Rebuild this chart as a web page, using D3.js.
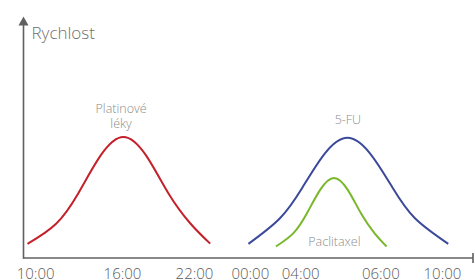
<!DOCTYPE html>
<html>
<head>
<meta charset="utf-8">
<script src="https://cdn.jsdelivr.net/npm/d3@7"></script>
<style>
  html, body { margin: 0; padding: 0; background: #fff; }
  svg { display: block; font-family: "Open Sans", sans-serif; }
  .lbl { fill: #8c8c8c; font-size: 12.5px; font-weight: 300; }
  .tick text { fill: #5a5a5a; font-size: 15px; font-weight: 300; font-family: "Open Sans", sans-serif; }
</style>
</head>
<body>
<svg></svg>
<script>
// chart size
const width = 475;
const height = 280;

// tick positions on the (non-uniform) time axis and their labels
const tickPositions = [2.7, 22, 38, 50.4, 61.6, 79.4, 93.1];
const tickLabels = ['10:00', '16:00', '22:00', '00:00', '04:00', '06:00', '10:00'];

// speed curves: [position, speed]
const platinum = [[1.0, 5.5], [7.3, 13.8], [12.3, 26.7], [17.3, 42.6], [22.3, 50.2],
  [27.3, 42.6], [32.3, 26.7], [37.3, 13.8], [41.6, 5.6]];
const fu5 = [[50.1, 5.5], [57.1, 16.2], [62.1, 29.1], [67.1, 43.4], [72.1, 49.9],
  [77.1, 43.4], [82.1, 29.1], [87.1, 16.2], [94.5, 5.5]];
const paclitaxel = [[56.2, 4.4], [60.1, 10.0], [63.1, 18.3], [66.1, 28.3], [69.1, 33.1],
  [72.1, 28.3], [75.1, 18.3], [78.1, 10.0], [80.8, 4.4]];

// curve names and where they sit: [position, speed]
const seriesNames = [['Platinové', 'léky'], ['5-FU'], ['Paclitaxel']];
const labelAnchors = [[21.8, 60.3], [72.2, 55.8], [69.2, 4.7]];
const seriesColors = ['#c4202a', '#3b4999', '#79b82c'];

const svg = d3.select('svg')
  .attr('width', width)
  .attr('height', height);

const x = d3.scaleLinear().domain([0, 100]).range([23, 473]);
const y = d3.scaleLinear().domain([0, 100]).range([257, 18]);
const axisY = y(0) + 1;

// axes
const axisColor = '#606060';
svg.append('line')
  .attr('x1', x(0) + 0.5).attr('x2', x(100))
  .attr('y1', axisY).attr('y2', axisY)
  .attr('stroke', axisColor).attr('stroke-width', 1.6);
svg.append('line')
  .attr('x1', x(0) + 0.5).attr('x2', x(0) + 0.5)
  .attr('y1', axisY + 0.8).attr('y2', 24)
  .attr('stroke', axisColor).attr('stroke-width', 1.6);
// arrow head on y axis
svg.append('path')
  .attr('d', `M${x(0) + 0.5},16.5 L${x(0) + 5.5},25.5 L${x(0) - 4.5},25.5 Z`)
  .attr('fill', axisColor);
// end tick on x axis
svg.append('line')
  .attr('x1', x(100)).attr('x2', x(100))
  .attr('y1', axisY - 5).attr('y2', axisY + 5)
  .attr('stroke', axisColor).attr('stroke-width', 1.6);

svg.append('text')
  .attr('x', 31.5).attr('y', 38.5)
  .attr('fill', '#707070')
  .style('font-size', '17px')
  .style('font-weight', 300)
  .text('Rychlost');

// tick labels
svg.append('g')
  .attr('transform', `translate(0,${axisY})`)
  .call(d3.axisBottom(x)
    .tickValues(tickPositions)
    .tickFormat((d, i) => tickLabels[i])
    .tickSize(0)
    .tickPadding(10))
  .call(g => g.select('.domain').remove());

// curves
const line = d3.line()
  .x(d => x(d[0]))
  .y(d => y(d[1]))
  .curve(d3.curveNatural);

[platinum, fu5, paclitaxel].forEach((data, i) => {
  svg.append('path')
    .datum(data)
    .attr('d', line)
    .attr('fill', 'none')
    .attr('stroke', seriesColors[i])
    .attr('stroke-width', 2);
});

// curve labels
seriesNames.forEach((lines, i) => {
  const t = svg.append('text')
    .attr('class', 'lbl')
    .attr('text-anchor', 'middle')
    .attr('x', x(labelAnchors[i][0]))
    .attr('y', y(labelAnchors[i][1]));
  lines.forEach((s, j) => {
    t.append('tspan')
      .attr('x', x(labelAnchors[i][0]))
      .attr('dy', j === 0 ? 0 : 15)
      .text(s);
  });
});
</script>
</body>
</html>
